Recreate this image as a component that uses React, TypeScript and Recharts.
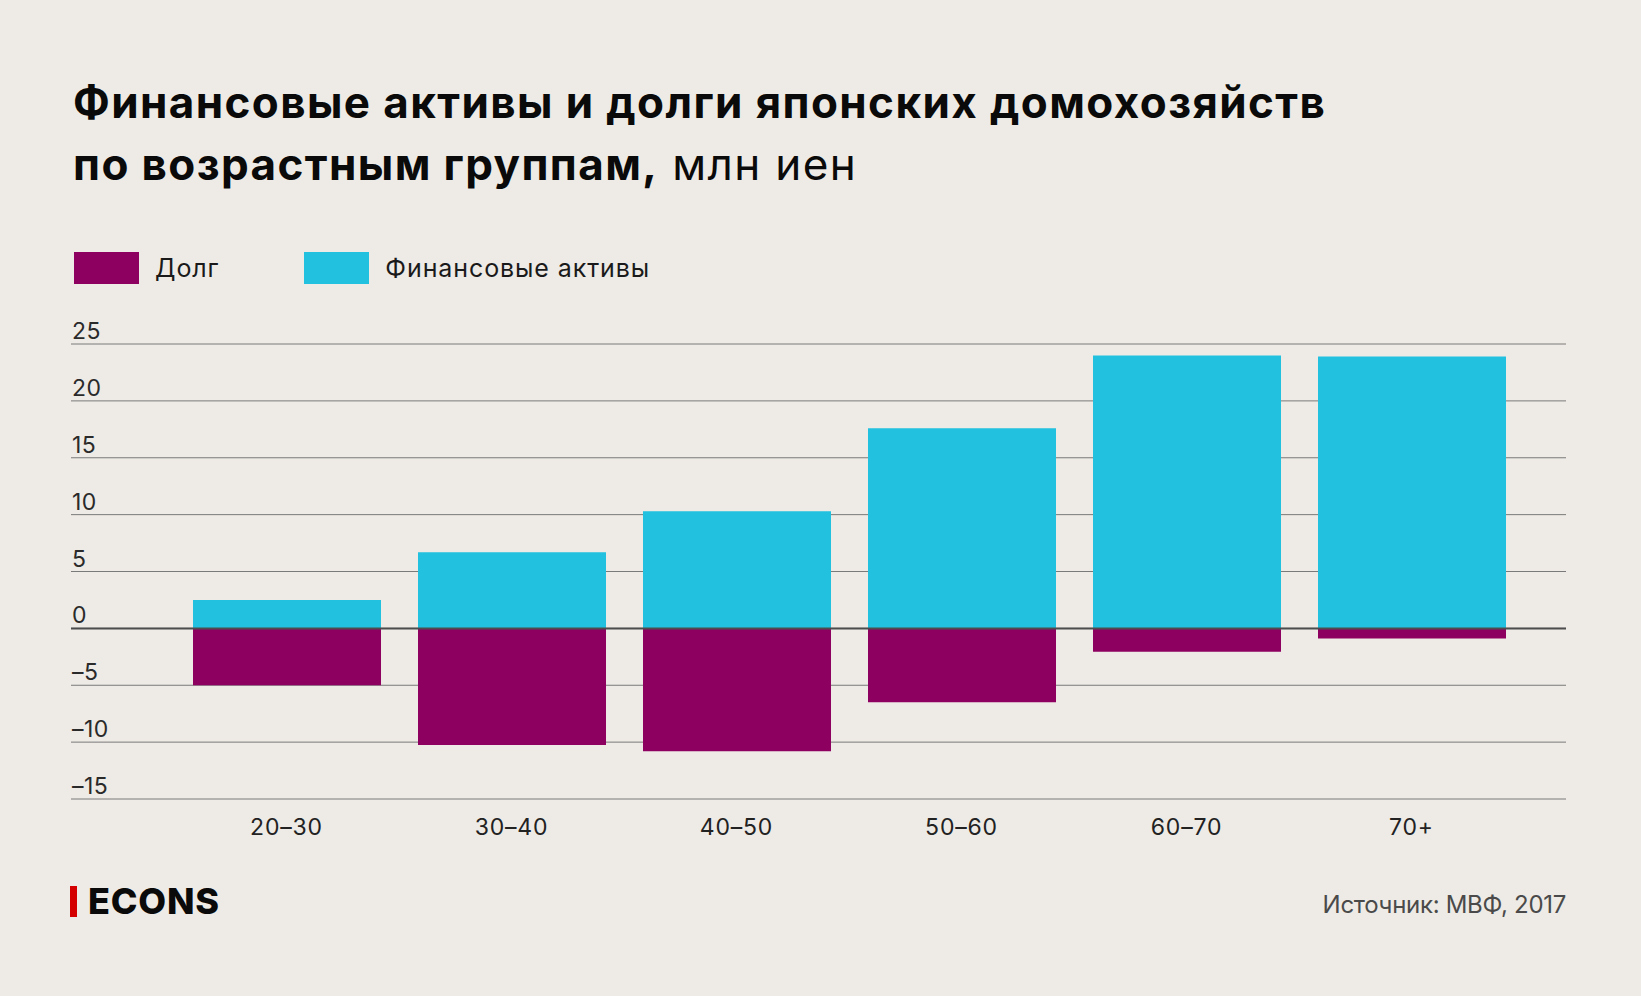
import { BarChart, Bar, XAxis, YAxis, CartesianGrid, ReferenceLine } from 'recharts';

const ageGroups = ['20–30', '30–40', '40–50', '50–60', '60–70', '70+'];
const debt = [-5.0, -10.25, -10.8, -6.5, -2.05, -0.9];
const assets = [2.5, 6.7, 10.3, 17.6, 24.0, 23.9];
const yTicks = [-15, -10, -5, 0, 5, 10, 15, 20, 25];

const seriesNames = { debt: 'Долг', assets: 'Финансовые активы' };
const colors = { debt: '#8e005f', assets: '#22c1df', bg: '#eeebe6' };

const FONT = 'Inter, "Noto Sans", sans-serif';

const chartData = ageGroups.map((g, i) => ({ group: g, debt: debt[i], assets: assets[i] }));

// negative numbers are shown with an en dash
const fmt = (v: number) => (v < 0 ? '\u2013' + Math.abs(v) : String(v));

function YTick(props: any) {
    const { y, payload } = props;
    return (
        <text x={72} y={y - 5} fontSize={23} fill="#2a2a2a" fontFamily={FONT} letterSpacing={0.5}>
            {fmt(payload.value)}
        </text>
    );
}

function XTick(props: any) {
    const { x, y, payload } = props;
    return (
        <text x={x} y={y + 36} fontSize={23} fill="#222" fontFamily={FONT} textAnchor="middle" letterSpacing={0.8}>
            {payload.value}
        </text>
    );
}

function LegendBlock() {
    const items = [
        { name: seriesNames.debt, color: colors.debt },
        { name: seriesNames.assets, color: colors.assets },
    ];
    return (
        <div style={{ position: 'absolute', left: 74, top: 252, display: 'flex', alignItems: 'center', fontFamily: FONT }}>
            {items.map((it, i) => (
                <div key={it.name} style={{ display: 'flex', alignItems: 'center', marginRight: i === 0 ? 85 : 0 }}>
                    <div style={{ width: 65, height: 32, background: it.color, marginRight: 16 }} />
                    <span style={{ fontSize: 25, color: '#1a1a1a', letterSpacing: 0.9 }}>{it.name}</span>
                </div>
            ))}
        </div>
    );
}

export default function App() {
    return (
        <div style={{ position: 'absolute', left: 0, top: 0, width: 1641, height: 996, background: colors.bg, overflow: 'hidden' }}>
            <BarChart
                width={1641}
                height={996}
                data={chartData}
                stackOffset="sign"
                margin={{ top: 344, right: 75, left: 70, bottom: 157 }}
            >
                <CartesianGrid vertical={false} stroke="#7a7a7a" strokeWidth={1} />
                <XAxis
                    dataKey="group"
                    axisLine={false}
                    tickLine={false}
                    tickSize={0}
                    tickMargin={0}
                    height={40}
                    padding={{ left: 103, right: 42 }}
                    tick={<XTick />}
                    interval={0}
                />
                <YAxis
                    width={1}
                    domain={[-15, 25]}
                    ticks={yTicks}
                    axisLine={false}
                    tickLine={false}
                    tick={<YTick />}
                    interval={0}
                    allowDataOverflow
                />
                <Bar dataKey="debt" name={seriesNames.debt} stackId="a" fill={colors.debt} barSize={188} isAnimationActive={false} />
                <Bar dataKey="assets" name={seriesNames.assets} stackId="a" fill={colors.assets} barSize={188} isAnimationActive={false} />
                <ReferenceLine y={0} stroke="#4d4d4d" strokeWidth={2} />
            </BarChart>

            <div style={{ position: 'absolute', left: 73, top: 71, fontFamily: FONT, fontSize: 44, lineHeight: '62px', color: '#0a0a0a', letterSpacing: 1.4 }}>
                <div style={{ fontWeight: 700 }}>Финансовые активы и долги японских домохозяйств</div>
                <div>
                    <span style={{ fontWeight: 700 }}>по возрастным группам,</span>
                    <span style={{ fontWeight: 400 }}> млн иен</span>
                </div>
            </div>

            <LegendBlock />

            <div style={{ position: 'absolute', left: 70, top: 886, width: 7, height: 31, background: '#d40000' }} />
            <div style={{ position: 'absolute', left: 88, top: 876, fontFamily: FONT, fontWeight: 800, fontSize: 36, lineHeight: '50px', color: '#0a0a0a', letterSpacing: 0.8 }}>
                ECONS
            </div>

            <div style={{ position: 'absolute', right: 75, top: 888, fontFamily: FONT, fontSize: 24, lineHeight: '34px', color: '#4a4a4a', letterSpacing: -0.3 }}>
                Источник: МВФ, 2017
            </div>
        </div>
    );
}
